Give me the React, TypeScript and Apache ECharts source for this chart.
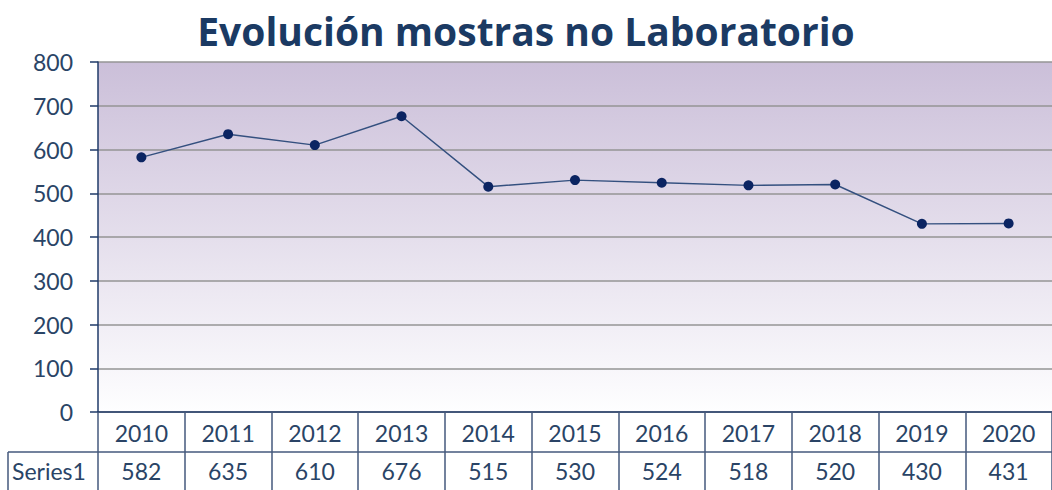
import React, { useEffect, useRef } from "react";
import * as echarts from "echarts";

const TITLE = "Evolución mostras no Laboratorio";
const SERIES_NAME = "Series1";
const YEARS = ["2010", "2011", "2012", "2013", "2014", "2015", "2016", "2017", "2018", "2019", "2020"];
const VALUES = [582, 635, 610, 676, 515, 530, 524, 518, 520, 430, 431];
const Y_MIN = 0;
const Y_MAX = 800;
const Y_STEP = 100;

const FONT = "Lato, 'Open Sans', sans-serif";
const TEXT = "#2a4466";
const NAVY = "#1f3a68";
const BORDER = "#44597c";

export default function App() {
  const ref = useRef<HTMLDivElement>(null);
  useEffect(() => {
    if (!ref.current) return;
    const chart = echarts.init(ref.current, undefined, { renderer: "svg" });
    chart.setOption({
      animation: false,
      backgroundColor: "#ffffff",
      title: {
        text: TITLE,
        left: "center",
        top: 6,
        textStyle: { fontFamily: "'Open Sans', sans-serif", fontWeight: "bold", fontSize: 39, color: "#1b3a63" },
      },
      grid: {
        left: 98,
        top: 62,
        width: 960,
        bottom: 78,
        show: true,
        borderWidth: 0,
        backgroundColor: {
          type: "linear",
          x: 0,
          y: 0,
          x2: 0,
          y2: 1,
          colorStops: [
            { offset: 0, color: "#cbbfd9" },
            { offset: 1, color: "#fefeff" },
          ],
        },
      },
      xAxis: {
        type: "category",
        data: YEARS,
        boundaryGap: true,
        axisLine: { show: true, lineStyle: { color: NAVY, width: 1.5 } },
        axisTick: { show: true, length: 78, alignWithLabel: false, lineStyle: { color: BORDER, width: 1.5 } },
        axisLabel: {
          margin: 2,
          interval: 0,
          formatter: (val: string, idx: number) => `{y|${val}}\n{v|${VALUES[idx]}}`,
          rich: {
            y: { fontFamily: FONT, fontSize: 23, color: TEXT, lineHeight: 38, height: 38 },
            v: { fontFamily: FONT, fontSize: 23, color: TEXT, lineHeight: 38, height: 38 },
          },
        },
        splitLine: { show: false },
      },
      yAxis: {
        type: "value",
        min: Y_MIN,
        max: Y_MAX,
        interval: Y_STEP,
        axisLine: { show: true, lineStyle: { color: NAVY, width: 1.5 } },
        axisTick: { show: true, length: 8, lineStyle: { color: NAVY, width: 1.5 } },
        axisLabel: { margin: 25, fontFamily: FONT, fontSize: 23, color: TEXT },
        splitLine: { show: true, lineStyle: { color: "#959595", width: 1.5 } },
      },
      graphic: [
        {
          type: "line",
          shape: { x1: 8, y1: 452, x2: 1052, y2: 452 },
          style: { stroke: BORDER, lineWidth: 1.5 },
        },
        {
          type: "line",
          shape: { x1: 8, y1: 452, x2: 8, y2: 490 },
          style: { stroke: BORDER, lineWidth: 1.5 },
        },
        {
          type: "text",
          x: 12,
          y: 471,
          style: {
            text: SERIES_NAME,
            fontFamily: FONT,
            fontSize: 23,
            fill: TEXT,
            verticalAlign: "middle",
            align: "left",
          },
        },
      ],
      series: [
        {
          name: SERIES_NAME,
          type: "line",
          data: VALUES,
          symbol: "circle",
          symbolSize: 10,
          itemStyle: { color: "#0b2462" },
          lineStyle: { color: "#34507f", width: 1.5 },
        },
      ],
    });
    return () => chart.dispose();
  }, []);
  return (
    <div
      ref={ref}
      style={{ position: "fixed", left: 0, top: 0, width: 1052, height: 490 }}
    />
  );
}
